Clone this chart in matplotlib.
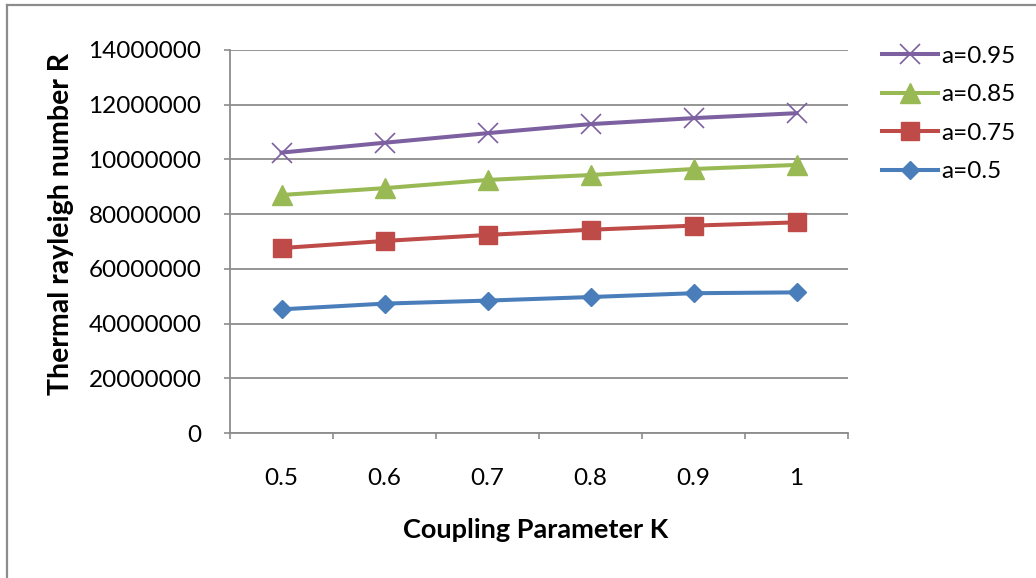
#!/usr/bin/env python3
"""Thermal rayleigh number R vs coupling parameter K (Excel-style line chart)."""
import matplotlib

matplotlib.use("Agg")
import matplotlib.pyplot as plt
from matplotlib.lines import Line2D

plt.rcParams["font.family"] = ["Lato", "DejaVu Sans"]

K_LABELS = ["0.5", "0.6", "0.7", "0.8", "0.9", "1"]

R_A050 = [45.2e6, 47.3e6, 48.4e6, 49.7e6, 51.1e6, 51.4e6]
R_A075 = [67.6e6, 70.2e6, 72.4e6, 74.3e6, 75.8e6, 77.0e6]
R_A085 = [87.0e6, 89.5e6, 92.5e6, 94.3e6, 96.5e6, 98.0e6]
R_A095 = [102.5e6, 106.1e6, 109.6e6, 112.9e6, 115.1e6, 116.9e6]

Y_TICKS = [0, 20e6, 40e6, 60e6, 80e6, 100e6, 120e6, 140e6]
# tick labels as printed in the original (upper ones are truncated there)
Y_TICK_LABELS = ["0", "20000000", "40000000", "60000000", "80000000",
                 "10000000", "12000000", "14000000"]

W, H = 1036, 578
fig = plt.figure(figsize=(W / 100, H / 100), dpi=100)
ax = fig.add_axes([230 / W, 1 - 433 / H, (848 - 230) / W, (433 - 50) / H])

x = list(range(len(K_LABELS)))
series = [
    (R_A050, "a=0.5", "#4A7EBB", "D", 9.5, 1.0),
    (R_A075, "a=0.75", "#BE4B48", "s", 13.5, 1.0),
    (R_A085, "a=0.85", "#98B954", "^", 14, 1.0),
    (R_A095, "a=0.95", "#7D60A0", "x", 14, 1.2),
]
for ys, lbl, col, mk, ms, mew in series:
    ax.plot(x, ys, "-", color=col, lw=2.9, marker=mk, markersize=ms,
            markeredgewidth=mew, markerfacecolor=col, markeredgecolor=col,
            label=lbl, zorder=3)

ax.set_xlim(-0.5, len(K_LABELS) - 0.5)
ax.set_ylim(0, 140e6)

# category axis: tick marks between categories, labels centred
ax.set_xticks([i - 0.5 for i in range(len(K_LABELS) + 1)])
ax.set_xticklabels([])
ax.set_xticks(x, minor=True)
ax.set_xticklabels(K_LABELS, minor=True)
ax.tick_params(axis="x", which="major", length=4.5, color="#8c8c8c", width=1.2)
ax.tick_params(axis="x", which="minor", length=0, pad=25, labelsize=17.5)

ax.set_yticks(Y_TICKS)
ax.set_yticklabels(Y_TICK_LABELS)
ax.tick_params(axis="y", length=4.5, color="#8c8c8c", width=1.2, pad=16,
               labelsize=17.5)

ax.grid(True, axis="y", color="#8c8c8c", lw=1.3)
ax.set_axisbelow(True)
for side in ("top", "right"):
    ax.spines[side].set_visible(False)
for side in ("left", "bottom"):
    ax.spines[side].set_color("#8c8c8c")
    ax.spines[side].set_linewidth(1.3)

fig.text(536 / W, 1 - 530 / H, "Coupling Parameter K", ha="center",
         va="center", fontsize=19.5, fontweight="bold")
fig.text(61 / W, 1 - 224 / H, "Thermal rayleigh number R", ha="center",
         va="center", rotation=90, fontsize=20.5, fontweight="bold")

handles, labels = ax.get_legend_handles_labels()
ax.legend(handles[::-1], labels[::-1], loc="upper left",
          bbox_to_anchor=(872 / W, 1 - 36 / H), bbox_transform=fig.transFigure,
          frameon=False, fontsize=17.5, handlelength=2.3, handletextpad=0.15,
          labelspacing=0.72, borderaxespad=0)

# chart-area border (only top and left edges are visible in the original)
fig.add_artist(Line2D([6.5 / W, 1], [1 - 4.5 / H, 1 - 4.5 / H],
                      transform=fig.transFigure, color="#8c8c8c", lw=1.6))
fig.add_artist(Line2D([6.5 / W, 6.5 / W], [0, 1 - 4.5 / H],
                      transform=fig.transFigure, color="#8c8c8c", lw=1.6))

fig.savefig("out.png", dpi=100)
